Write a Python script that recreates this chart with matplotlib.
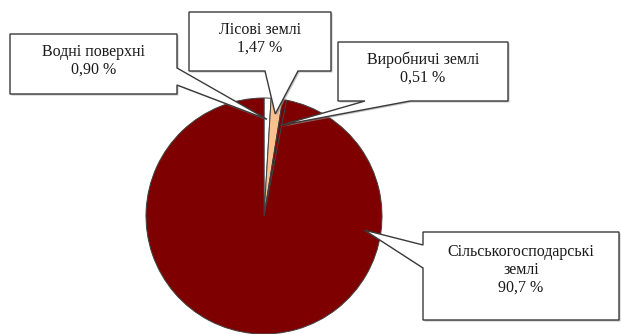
import numpy as np
import matplotlib
matplotlib.use('Agg')
import matplotlib.pyplot as plt
from matplotlib.patches import Polygon

# Land structure (percent), clockwise from 12 o'clock
labels = ['Водні поверхні', 'Лісові землі', 'Виробничі землі', 'Сільськогосподарські\nземлі']
values = [0.90, 1.47, 0.51, 90.7]
value_text = ['0,90 %', '1,47 %', '0,51 %', '90,7 %']
colors = ['#ffffff', '#fac090', '#7f0000', '#7f0000']

W, H = 621, 334
fig = plt.figure(figsize=(W / 100, H / 100), dpi=100)
ax = fig.add_axes([0, 0, 1, 1])

cx, cy, r = 264, H - 216, 118
wedges, _ = ax.pie(values, colors=colors, startangle=90, counterclock=False,
                   center=(cx, cy), radius=r, frame=True,
                   wedgeprops=dict(edgecolor='#404040', linewidth=0.7))
ax.set_xlim(0, W)
ax.set_ylim(0, H)
ax.set_aspect('equal')
ax.axis('off')

# callout boxes: (left, top, right, bottom) in pixels from top-left,
# side where the pointer leaves, pointer base span, tip radius fraction
boxes = [
    ((10, 34, 177, 94), 'right', (68, 85), 0.82),
    ((189, 12, 331, 71), 'bottom', (265, 298), 0.87),
    ((338, 42, 508, 101), 'bottom', (365, 410), 0.78),
    ((423, 232, 619, 320), 'left', (245, 268), 0.86),
]

for w, lab, vt, (box, side, base, frac) in zip(wedges, labels, value_text, boxes):
    l, t, rr, b = box
    span = w.theta2 - w.theta1
    if span < 30:
        ang = np.deg2rad((w.theta1 + w.theta2) / 2)
    else:
        ang = np.deg2rad(-8)
    tip = (cx + frac * r * np.cos(ang), cy + frac * r * np.sin(ang))
    T, B = H - t, H - b
    if side == 'right':
        pts = [(l, T), (rr, T), (rr, H - base[0]), tip, (rr, H - base[1]), (rr, B), (l, B)]
    elif side == 'bottom':
        pts = [(l, T), (rr, T), (rr, B), (base[1], B), tip, (base[0], B), (l, B)]
    else:
        pts = [(l, T), (rr, T), (rr, B), (l, B), (l, H - base[1]), tip, (l, H - base[0])]
    shadow = Polygon([(x + 1.5, y - 1.5) for x, y in pts], closed=True,
                     facecolor='#9a9a9a', edgecolor='none', alpha=0.6, zorder=4)
    ax.add_patch(shadow)
    ax.add_patch(Polygon(pts, closed=True, facecolor='white', edgecolor='#3a3a3a',
                         linewidth=1.0, zorder=5))
    nlines = lab.count('\n') + 2
    ty = (T + B) / 2 + (3 if nlines == 2 else 6)
    ax.text((l + rr) / 2, ty, lab + '\n' + vt, ha='center', va='center',
            family='Liberation Serif', fontsize=11.5, color='#1a1a1a',
            linespacing=1.15, zorder=6)

fig.savefig('out.png', dpi=100)
